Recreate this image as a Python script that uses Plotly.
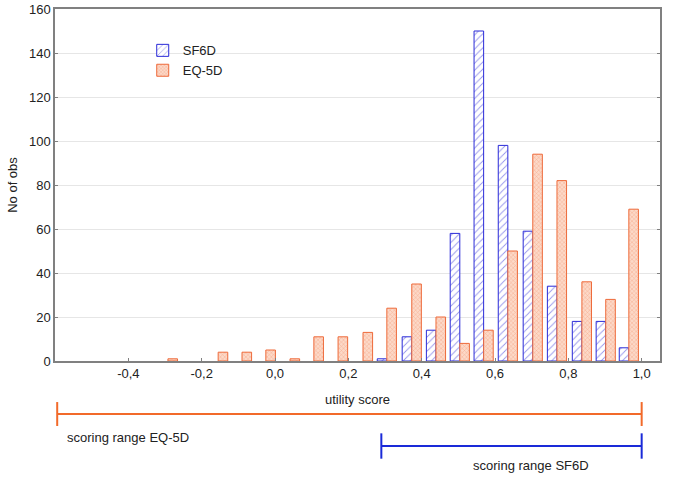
import plotly.graph_objects as go

# ---- data ----
bin_centers = [-0.292, -0.226, -0.155, -0.090, -0.025, 0.041, 0.106, 0.172, 0.240, 0.305,
               0.373, 0.439, 0.504, 0.569, 0.635, 0.703, 0.769, 0.837, 0.902, 0.965]
sf6d_counts = [0, 0, 0, 0, 0, 0, 0, 0, 0, 1,
               11, 14, 58, 150, 98, 59, 34, 18, 18, 6]
eq5d_counts = [1, 0, 4, 4, 5, 1, 11, 11, 13, 24,
               35, 20, 8, 14, 50, 94, 82, 36, 28, 69]

x_tick_vals = [-0.4, -0.2, 0.0, 0.2, 0.4, 0.6, 0.8, 1.0]
x_tick_labels = ["-0,4", "-0,2", "0,0", "0,2", "0,4", "0,6", "0,8", "1,0"]
y_tick_vals = [0, 20, 40, 60, 80, 100, 120, 140, 160]

eq5d_range = [-0.594, 1.0]
sf6d_range = [0.29, 1.0]

BLUE = "#2a2ad8"
ORANGE = "#ee6a3a"
FONT = "Liberation Sans, Arial, sans-serif"


def nonzero(vals):
    # empty bins are drawn as no bar at all, as in the reference
    return [v if v > 0 else None for v in vals]


fig = go.Figure()
fig.add_trace(go.Bar(
    x=bin_centers, y=nonzero(sf6d_counts), name="SF6D",
    marker=dict(color="white", line=dict(color=BLUE, width=1),
                pattern=dict(shape="/", fgcolor=BLUE, bgcolor="white", size=5, solidity=0.18)),
))
fig.add_trace(go.Bar(
    x=bin_centers, y=nonzero(eq5d_counts), name="EQ-5D",
    marker=dict(color="white", line=dict(color=ORANGE, width=1),
                pattern=dict(shape="x", fgcolor="#ef7f55", bgcolor="#fcd9c8", size=3, solidity=0.3)),
))

# scoring range lines below the axis (data x, paper y)
y_or, y_bl = -0.1506, -0.2415
cap_or, cap_bl = 0.034, 0.036
for rng, yy, cap, col in [(eq5d_range, y_or, cap_or, "#f26a2a"), (sf6d_range, y_bl, cap_bl, "#1a2ad8")]:
    fig.add_shape(type="line", xref="x", yref="paper", x0=rng[0], x1=rng[1], y0=yy, y1=yy,
                  line=dict(color=col, width=2))
    for xv in rng:
        fig.add_shape(type="line", xref="x", yref="paper", x0=xv, x1=xv, y0=yy - cap, y1=yy + cap,
                      line=dict(color=col, width=2))

fig.add_annotation(xref="paper", yref="paper", x=0.0165, y=-0.216, xanchor="left", yanchor="middle",
                   text="scoring range EQ-5D", showarrow=False, font=dict(size=13, color="#222"))
fig.add_annotation(xref="x", yref="paper", x=0.535, y=-0.298, xanchor="left", yanchor="middle",
                   text="scoring range SF6D", showarrow=False, font=dict(size=13, color="#222"))

fig.update_layout(
    width=685, height=495,
    margin=dict(l=55, r=25, t=9, b=134, autoexpand=False),
    paper_bgcolor="white", plot_bgcolor="white",
    font=dict(family=FONT, size=13, color="#222"),
    barmode="group", bargap=0.17, bargroupgap=0,
    legend=dict(x=0.145, y=0.925, xanchor="left", yanchor="top",
                bgcolor="rgba(0,0,0,0)", font=dict(size=13), tracegroupgap=0,
                itemwidth=30),
    showlegend=True,
)
fig.update_xaxes(
    range=[-0.6, 1.05], tickvals=x_tick_vals, ticktext=x_tick_labels,
    showgrid=False, zeroline=False, showline=True, linecolor="#808080", linewidth=1.5,
    mirror=True, ticks="inside", ticklen=3, tickcolor="#808080", automargin=False,
    title=dict(text="utility score", standoff=15, font=dict(size=13)),
)
fig.update_yaxes(
    range=[0, 160], tickvals=y_tick_vals,
    showgrid=True, gridcolor="#e6e6e6", gridwidth=1, zeroline=False,
    showline=True, linecolor="#808080", linewidth=1.5, mirror="ticks",
    ticks="inside", ticklen=3, tickcolor="#808080", automargin=False,
    title=dict(text="No of obs", standoff=8, font=dict(size=13)),
)

fig.write_html("out.html", config={"displayModeBar": False},
               post_script="document.body.style.margin='0';")
